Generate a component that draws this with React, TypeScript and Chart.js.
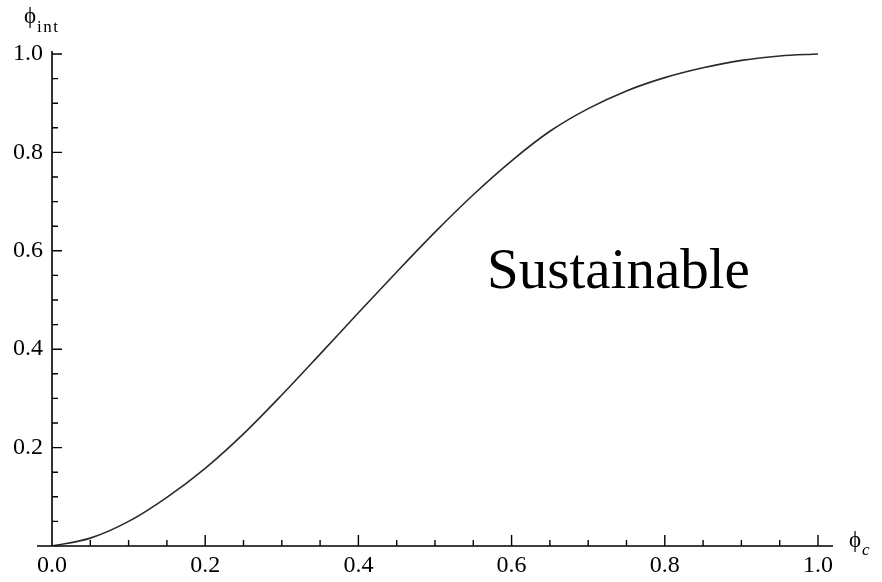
import React, { useEffect, useRef } from 'react';
import { Chart, registerables } from 'chart.js';

Chart.register(...registerables);

// Curve values (phi_c -> phi_int)
const phiC = [0, 0.05, 0.1, 0.15, 0.2, 0.25, 0.3, 0.35, 0.4, 0.45, 0.5, 0.55, 0.6, 0.65, 0.7, 0.75, 0.8, 0.85, 0.9, 0.95, 1.0];
const phiInt = [0, 0.016, 0.05, 0.099, 0.158, 0.228, 0.307, 0.39, 0.474, 0.557, 0.638, 0.714, 0.783, 0.843, 0.889, 0.925, 0.952, 0.972, 0.987, 0.996, 1.0];

const xMajorTicks = [0, 0.2, 0.4, 0.6, 0.8, 1.0];
const xTickLabels = ['0.0', '0.2', '0.4', '0.6', '0.8', '1.0'];
const yMajorTicks = [0.2, 0.4, 0.6, 0.8, 1.0];
const yTickLabels = ['0.2', '0.4', '0.6', '0.8', '1.0'];
const minorTicks = [0.05, 0.1, 0.15, 0.25, 0.3, 0.35, 0.45, 0.5, 0.55, 0.65, 0.7, 0.75, 0.85, 0.9, 0.95];

const xRange = [0, 1.0196];
const xAxisStart = -0.0196;
const yRange = [0, 1.0061];

const annotationText = 'Sustainable';
const annotationPos = [0.568, 0.524];

const SERIF = '"Liberation Serif", "Times New Roman", serif';

const axesPlugin = {
  id: 'mmaAxes',
  afterDraw(chart: any) {
    const ctx = chart.ctx;
    const xs = chart.scales.x;
    const ys = chart.scales.y;
    const area = chart.chartArea;
    const x0 = xs.getPixelForValue(0);
    const y0 = ys.getPixelForValue(0);
    const yTop = ys.getPixelForValue(yRange[1]);
    ctx.save();
    ctx.strokeStyle = '#000';
    ctx.lineWidth = 1.6;
    ctx.beginPath();
    ctx.moveTo(xs.getPixelForValue(xAxisStart), y0);
    ctx.lineTo(area.right, y0);
    ctx.moveTo(x0, yTop);
    ctx.lineTo(x0, y0);
    ctx.stroke();

    ctx.lineWidth = 1.4;
    ctx.beginPath();
    xMajorTicks.forEach((v) => {
      if (v === 0) return;
      const p = xs.getPixelForValue(v);
      ctx.moveTo(p, y0);
      ctx.lineTo(p, y0 - 11);
    });
    minorTicks.forEach((v) => {
      const p = xs.getPixelForValue(v);
      ctx.moveTo(p, y0);
      ctx.lineTo(p, y0 - 6);
    });
    yMajorTicks.forEach((v) => {
      const p = ys.getPixelForValue(v);
      ctx.moveTo(x0, p);
      ctx.lineTo(x0 + 10, p);
    });
    minorTicks.forEach((v) => {
      const p = ys.getPixelForValue(v);
      ctx.moveTo(x0, p);
      ctx.lineTo(x0 + 6, p);
    });
    ctx.stroke();

    // axis titles
    ctx.fillStyle = '#000';
    ctx.textBaseline = 'alphabetic';
    ctx.textAlign = 'left';
    ctx.font = `23px ${SERIF}`;
    ctx.fillText('\u03D5', x0 - 28, yTop - 28);
    ctx.font = `17px ${SERIF}`;
    (ctx as any).letterSpacing = '1.5px';
    ctx.fillText('int', x0 - 15, yTop - 19);
    (ctx as any).letterSpacing = '0px';

    ctx.font = `23px ${SERIF}`;
    ctx.fillText('\u03D5', area.right + 16, y0 + 1);
    ctx.font = `italic 17px ${SERIF}`;
    ctx.fillText('c', area.right + 29, y0 + 9);

    // annotation
    ctx.font = `57px ${SERIF}`;
    ctx.fillText(annotationText, xs.getPixelForValue(annotationPos[0]), ys.getPixelForValue(annotationPos[1]));
    ctx.restore();
  },
};

export default function App() {
  const ref = useRef<HTMLCanvasElement | null>(null);
  useEffect(() => {
    if (!ref.current) return;
    const chart = new Chart(ref.current, {
      type: 'line',
      data: {
        datasets: [
          {
            data: phiC.map((x, i) => ({ x, y: phiInt[i] })),
            borderColor: '#2a2a2a',
            borderWidth: 1.6,
            pointRadius: 0,
            fill: false,
            cubicInterpolationMode: 'monotone',
          },
        ],
      },
      options: {
        responsive: false,
        animation: false,
        devicePixelRatio: 1,
        layout: { padding: { top: 51, right: 49, left: 0, bottom: 0 } },
        plugins: { legend: { display: false }, tooltip: { enabled: false } },
        scales: {
          x: {
            type: 'linear',
            min: xRange[0],
            max: xRange[1],
            grid: { display: false, drawTicks: false },
            border: { display: false },
            afterBuildTicks: (scale: any) => {
              scale.ticks = xMajorTicks.map((v) => ({ value: v }));
            },
            afterFit: (scale: any) => {
              scale.height = 36;
            },
            ticks: {
              autoSkip: false,
              maxRotation: 0,
              padding: 5,
              color: '#000',
              font: { family: SERIF, size: 24 },
              callback: (v: any) => xTickLabels[xMajorTicks.indexOf(v)],
            },
          },
          y: {
            type: 'linear',
            min: yRange[0],
            max: yRange[1],
            grid: { display: false, drawTicks: false },
            border: { display: false },
            afterBuildTicks: (scale: any) => {
              scale.ticks = yMajorTicks.map((v) => ({ value: v }));
            },
            afterFit: (scale: any) => {
              scale.width = 52;
            },
            ticks: {
              autoSkip: false,
              padding: 9,
              color: '#000',
              font: { family: SERIF, size: 24 },
              callback: (v: any) => yTickLabels[yMajorTicks.indexOf(v)],
            },
          },
        },
      },
      plugins: [axesPlugin],
    } as any);
    return () => chart.destroy();
  }, []);
  return (
    <div style={{ position: 'absolute', left: 0, top: 0, width: 882, height: 582, background: '#fff' }}>
      <canvas ref={ref} width={882} height={582} style={{ display: 'block' }} />
    </div>
  );
}
